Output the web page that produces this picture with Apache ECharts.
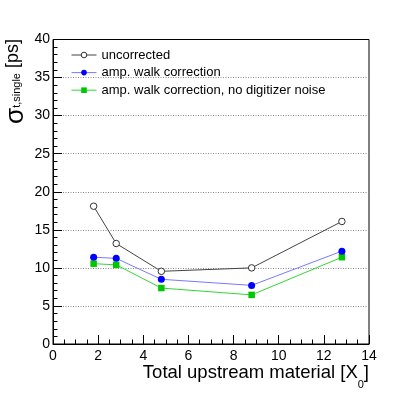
<!DOCTYPE html>
<html>
<head>
<meta charset="utf-8">
<script src="https://cdn.jsdelivr.net/npm/echarts@6/dist/echarts.min.js"></script>
<style>
  html, body { margin: 0; padding: 0; background: #fff; }
  #main { width: 411px; height: 396px; }
</style>
</head>
<body>
<div id="main"></div>
<script>
// material in front of the detector, X0
var material = [1.8, 2.8, 4.8, 8.8, 12.8];
// single-channel time resolution, ps
var uncorrected = [18.1, 13.2, 9.55, 10.0, 16.1];
var ampWalk = [11.4, 11.25, 8.5, 7.7, 12.2];
var ampWalkNoNoise = [10.55, 10.4, 7.35, 6.45, 11.4];
var seriesNames = ['uncorrected', 'amp. walk correction', 'amp. walk correction, no digitizer noise'];

var FONT = 'Liberation Sans, Arial, Helvetica, sans-serif';

function pairs(vals) {
    return material.map(function (x, i) { return [x, vals[i]]; });
}

var myChart = echarts.init(document.getElementById('main'), null, { renderer: 'canvas' });

var option = {
    animation: false,
    backgroundColor: '#fff',
    grid: {
        left: 53, right: 42, top: 39.5, bottom: 52,
        show: true, borderColor: '#000', borderWidth: 1, backgroundColor: 'transparent'
    },
    legend: {
        orient: 'vertical',
        left: 71, top: 48,
        padding: 0,
        itemWidth: 25, itemHeight: 7, itemGap: 3.6,
        lineStyle: { width: 1 },
        textStyle: { fontFamily: FONT, fontSize: 13, color: '#000', lineHeight: 14 },
        data: [
            { name: seriesNames[0], itemStyle: { borderWidth: 1, borderColor: '#333', color: '#fff' } },
            { name: seriesNames[1] },
            { name: seriesNames[2] }
        ]
    },
    xAxis: {
        type: 'value',
        min: 0, max: 14, interval: 2,
        axisLine: { lineStyle: { color: '#000', width: 1 } },
        axisTick: { inside: true, length: 9, lineStyle: { color: '#000' } },
        minorTick: { show: true, splitNumber: 4, length: 4.5, lineStyle: { color: '#000' } },
        axisLabel: { fontFamily: FONT, fontSize: 14, color: '#000', margin: 5 },
        splitLine: { show: false }
    },
    yAxis: {
        type: 'value',
        min: 0, max: 40, interval: 5,
        axisLine: { show: true, lineStyle: { color: '#000', width: 1 } },
        axisTick: { show: true, inside: true, length: 9, lineStyle: { color: '#000' } },
        minorTick: { show: true, splitNumber: 5, length: 4.5, lineStyle: { color: '#000' } },
        axisLabel: { fontFamily: FONT, fontSize: 14, color: '#000', margin: 3 },
        splitLine: {
            show: true, showMinLine: false, showMaxLine: false,
            lineStyle: { color: '#888', type: [1, 1.5], width: 1 }
        }
    },
    series: [{
        name: seriesNames[0],
        type: 'line',
        data: pairs(uncorrected),
        symbol: 'circle', symbolSize: 6.5,
        lineStyle: { color: '#444', width: 1 },
        itemStyle: { color: '#fff', borderColor: '#333', borderWidth: 1 },
        z: 4
    }, {
        name: seriesNames[1],
        type: 'line',
        data: pairs(ampWalk),
        symbol: 'circle', symbolSize: 7,
        lineStyle: { color: '#7a7aff', width: 1 },
        itemStyle: { color: '#0000ff', borderWidth: 0 },
        z: 3
    }, {
        name: seriesNames[2],
        type: 'line',
        data: pairs(ampWalkNoNoise),
        symbol: 'rect', symbolSize: 6.5,
        lineStyle: { color: '#33d633', width: 1 },
        itemStyle: { color: '#00c800', borderWidth: 0 },
        z: 2
    }],
    graphic: [{
        type: 'text',
        x: 29, y: 39,
        rotation: Math.PI / 2,
        style: {
            text: '{g|σ}{sub|t,single}{m| [ps]}',
            align: 'right',
            verticalAlign: 'bottom',
            fill: '#000',
            rich: {
                g: { fontFamily: FONT, fontSize: 26, lineHeight: 26, verticalAlign: 'bottom' },
                m: { fontFamily: FONT, fontSize: 18, lineHeight: 18, verticalAlign: 'bottom', padding: [0, 0, 7, 0] },
                sub: { fontFamily: FONT, fontSize: 11, lineHeight: 11, verticalAlign: 'bottom', padding: [0, 0, 7, 0] }
            }
        }
    }, {
        type: 'text',
        x: 369, y: 390,
        style: {
            text: '{m|Total upstream material [X}{sub|0}{m|]}',
            align: 'right',
            verticalAlign: 'bottom',
            fill: '#000',
            rich: {
                m: { fontFamily: FONT, fontSize: 18.5, lineHeight: 18.5, verticalAlign: 'bottom', padding: [0, 0, 8, 0] },
                sub: { fontFamily: FONT, fontSize: 11, lineHeight: 11, verticalAlign: 'bottom' }
            }
        }
    }]
};

myChart.setOption(option);
</script>
</body>
</html>
